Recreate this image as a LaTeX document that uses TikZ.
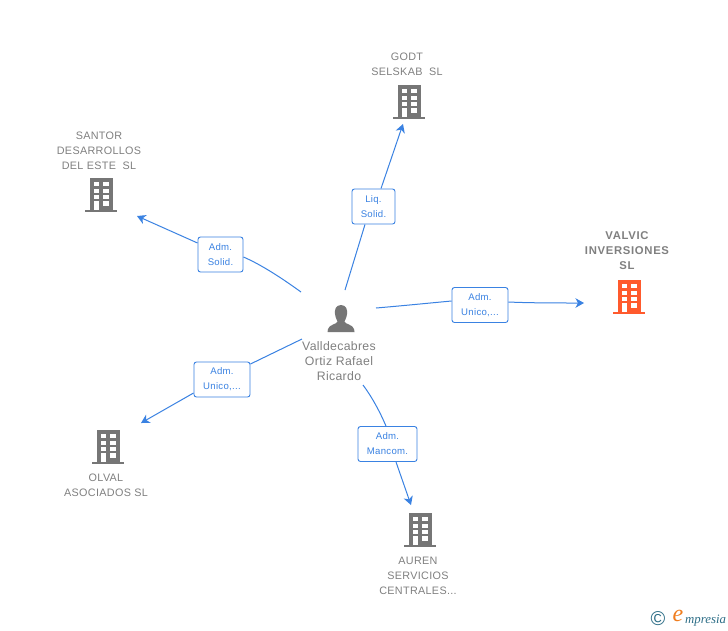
\documentclass[tikz,border=0pt]{standalone}
\usepackage{fontspec}
\setmainfont{Liberation Sans}
\newfontfamily\logofont{Liberation Serif}
\usetikzlibrary{arrows.meta}
\definecolor{txtgrey}{RGB}{128,128,128}
\definecolor{icongrey}{RGB}{118,118,118}
\definecolor{linkblue}{RGB}{58,130,226}
\definecolor{orangeb}{RGB}{255,90,45}
\definecolor{logoteal}{RGB}{45,110,135}
\definecolor{logoor}{RGB}{240,125,30}
\tikzset{
  lbl/.style={font=\fontsize{10.8}{15}\selectfont\addfontfeatures{LetterSpace=3},text=txtgrey,align=center,inner sep=0pt},
  lblb/.style={font=\fontsize{11.3}{15}\selectfont\bfseries\addfontfeatures{LetterSpace=6},text=txtgrey,align=center,inner sep=0pt},
  rolebox/.style={draw=linkblue,line width=0.9pt,rounded corners=2.5pt,fill=white,text=linkblue,font=\fontsize{9.6}{15}\selectfont\addfontfeatures{LetterSpace=3},align=center,inner sep=0pt,minimum height=35pt},
  link/.style={draw=linkblue,line width=1pt},
  linkar/.style={link,-{Stealth[length=8.5pt,width=9.5pt,inset=2.5pt]}},
  pics/bld/.style={code={
    \fill[#1] (-11.5,-17) rectangle (11.5,15);
    \fill[#1] (-16,14.5) rectangle (16,17);
    \foreach \yy in {-13,-6.5,0.2} {
      \fill[white] (-7.5,\yy) rectangle (-2,\yy+4);
      \fill[white] (1.8,\yy) rectangle (7.5,\yy+4);
    }
    \fill[white] (-7.5,6.2) rectangle (-2,14.5);
    \fill[white] (1.8,6.2) rectangle (7.5,10.7);
  }}
}
\begin{document}
\begin{tikzpicture}[x=1pt,y=-1pt]
\useasboundingbox (0,0) rectangle (728,630);
\fill[white] (0,0) rectangle (728,630);
% icons
\pic at (409,102) {bld=icongrey};
\pic at (101,195) {bld=icongrey};
\pic at (629,297) {bld=orangeb};
\pic at (108,447) {bld=icongrey};
\pic at (420,530) {bld=icongrey};
% person
\fill[icongrey] (341,305) .. controls (335.5,305) and (334.5,310) .. (335,314) .. controls (335.5,318) and (337,320) .. (337.5,321.5) .. controls (337.5,324) and (329,324.5) .. (328,329) -- (327.5,332) -- (354.5,332) -- (354,329) .. controls (353,324.5) and (344.5,324) .. (344.5,321.5) .. controls (345,320) and (346.5,318) .. (347,314) .. controls (347.5,310) and (346.5,305) .. (341,305) -- cycle;
% text labels
\node[lbl] (godt) at (407,64) {GODT\\SELSKAB\ \ SL};
\node[lbl] (santor) at (99,150.5) {SANTOR\\DESARROLLOS\\DEL ESTE\ \ SL};
\node[lblb] (valvic) at (627,251) {VALVIC\\INVERSIONES\\SL};
\node[lbl] (olval) at (106,485) {OLVAL\\ASOCIADOS SL};
\node[lbl] (auren) at (418,575.5) {AUREN\\SERVICIOS\\CENTRALES...};
\node[lbl,font=\fontsize{12.3}{15}\selectfont\addfontfeatures{LetterSpace=2.5}] (person) at (339,361) {Valldecabres\\Ortiz Rafael\\Ricardo};
% free ends
\coordinate (sg) at (345,290);
\coordinate (eg) at (403,124);
\coordinate (ss) at (301,292);
\coordinate (es) at (137,216);
\coordinate (sv) at (376,308);
\coordinate (ev) at (584,303);
\coordinate (so) at (302,339);
\coordinate (eo) at (141,423);
\coordinate (sa) at (363,385);
\coordinate (ea) at (411,505);
% role boxes
\node[rolebox,minimum width=43pt] (rg) at (373.5,206.5) {Liq.\\Solid.};
\node[rolebox,minimum width=45pt] (rs) at (220.5,254.5) {Adm.\\Solid.};
\node[rolebox,minimum width=56pt] (rv) at (480,305) {Adm.\\Unico,...};
\node[rolebox,minimum width=56pt] (ro) at (222,379.5) {Adm.\\Unico,...};
\node[rolebox,minimum width=59pt] (ra) at (387.5,444) {Adm.\\Mancom.};
% connectors
\draw[link] (sg) -- ([xshift=-8.5pt]rg.south);
\draw[linkar] ([xshift=7.5pt]rg.north) -- (eg);
\draw[link] (ss) .. controls (283,279) and (262,265) .. ([yshift=-2.5pt]rs.east);
\draw[linkar] ([yshift=11.5pt]rs.west) -- (es);
\draw[link] (sv) .. controls (400,306) and (430,303) .. ([yshift=4pt]rv.west);
\draw[linkar] ([yshift=3pt]rv.east) .. controls (530,303) and (560,303) .. (ev);
\draw[link] (so) -- ([yshift=15.5pt]ro.east);
\draw[linkar] ([yshift=-13.5pt]ro.west) -- (eo);
\draw[link] (sa) .. controls (372,397) and (380,412) .. ([xshift=-1.5pt]ra.north);
\draw[linkar] ([xshift=8.5pt]ra.south) -- (ea);
% logo
\node[inner sep=0pt,text=logoteal,font=\fontsize{20}{20}\selectfont] (copy) at (658,618.5) {©};
\node[inner sep=0pt,text=logoor,font=\logofont\fontsize{24}{24}\selectfont\itshape] (loge) at (678,616) {e};
\node[inner sep=0pt,anchor=base west,text=logoteal,font=\logofont\fontsize{12.8}{12.8}\selectfont\itshape] (logt) at (685,623) {mpresia};
\end{tikzpicture}
\end{document}
